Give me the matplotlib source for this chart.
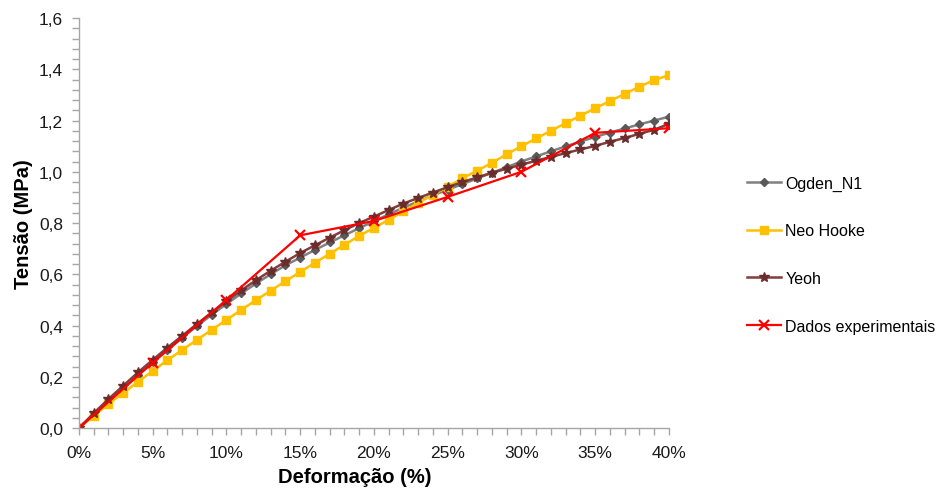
import matplotlib
matplotlib.use("Agg")
import matplotlib.pyplot as plt
from matplotlib.ticker import MultipleLocator, FuncFormatter

plt.rcParams['font.family'] = ['Liberation Sans', 'DejaVu Sans']

# deformacao (%) for the model curves
strain = list(range(0, 41))

ogden = [0.000, 0.053, 0.105, 0.157, 0.208, 0.257, 0.305, 0.352, 0.398, 0.442,
         0.484, 0.525, 0.564, 0.600, 0.635, 0.665, 0.695, 0.724, 0.752, 0.780,
         0.807, 0.834, 0.860, 0.884, 0.908, 0.930, 0.952, 0.974, 0.996, 1.018,
         1.040, 1.060, 1.080, 1.099, 1.118, 1.136, 1.153, 1.169, 1.185, 1.200,
         1.215]

neo_hooke = [0.000, 0.047, 0.094, 0.137, 0.180, 0.223, 0.265, 0.305, 0.344, 0.383,
             0.422, 0.461, 0.499, 0.536, 0.573, 0.609, 0.645, 0.680, 0.715, 0.750,
             0.781, 0.813, 0.845, 0.879, 0.910, 0.941, 0.975, 1.004, 1.035, 1.068,
             1.100, 1.130, 1.160, 1.190, 1.219, 1.248, 1.276, 1.304, 1.332, 1.358,
             1.377]

yeoh = [0.000, 0.058, 0.113, 0.165, 0.217, 0.266, 0.314, 0.360, 0.406, 0.451,
        0.495, 0.537, 0.577, 0.614, 0.649, 0.683, 0.713, 0.743, 0.772, 0.800,
        0.825, 0.851, 0.876, 0.898, 0.919, 0.940, 0.960, 0.978, 0.996, 1.012,
        1.028, 1.043, 1.058, 1.073, 1.087, 1.101, 1.117, 1.132, 1.148, 1.164,
        1.187]

exp_strain = [0, 5, 10, 15, 20, 25, 30, 35, 40]
exp_stress = [0.000, 0.255, 0.500, 0.752, 0.808, 0.902, 1.000, 1.152, 1.170]

fig = plt.figure(figsize=(9.36, 4.89), dpi=100)
ax = fig.add_axes([0.0844, 0.1227, 0.6303, 0.8384])

ax.plot(strain, ogden, color='#808080', lw=1.8, marker='D', ms=4,
        mfc='#595959', mec='#595959', label='Ogden_N1')
ax.plot(strain, neo_hooke, color='#FFC000', lw=1.8, marker='s', ms=5.5,
        mfc='#FFC000', mec='#FFC000', label='Neo Hooke')
ax.plot(strain, yeoh, color='#843C3C', lw=1.8, marker='*', ms=7,
        mfc='#6B2C2C', mec='#6B2C2C', label='Yeoh')
ax.plot(exp_strain, exp_stress, color='#FF0000', lw=1.6, marker='x', ms=7,
        mew=1.6, label='Dados experimentais')

ax.set_xlim(0, 40)
ax.set_ylim(0, 1.6)
ax.xaxis.set_major_locator(MultipleLocator(5))
ax.xaxis.set_minor_locator(MultipleLocator(1))
ax.yaxis.set_major_locator(MultipleLocator(0.2))
ax.yaxis.set_minor_locator(MultipleLocator(0.04))
ax.xaxis.set_major_formatter(FuncFormatter(lambda v, p: f'{v:.0f}%'))
ax.yaxis.set_major_formatter(FuncFormatter(lambda v, p: f'{v:.1f}'.replace('.', ',')))

for side in ['top', 'right']:
    ax.spines[side].set_visible(False)
for side in ['left', 'bottom']:
    ax.spines[side].set_color('#A6A6A6')
    ax.spines[side].set_linewidth(1.0)
ax.tick_params(which='both', direction='out', color='#A6A6A6', width=1.0)
ax.tick_params(which='major', length=5, labelsize=12.5, colors='#A6A6A6',
               labelcolor='#1a1a1a')
ax.tick_params(which='minor', length=5)
ax.tick_params(axis='x', which='major', pad=7)
ax.tick_params(axis='y', which='major', pad=6.5)

ax.set_xlabel('Deformação (%)', fontsize=14.5, fontweight='bold', labelpad=5)
ax.xaxis.set_label_coords(0.468, -0.094)
ax.set_ylabel('Tensão (MPa)', fontsize=14.5, fontweight='bold', labelpad=4)

leg = ax.legend(loc='center left', bbox_to_anchor=(1.132, 0.423), frameon=False,
                fontsize=11.5, labelspacing=2.05, handlelength=2.15,
                handletextpad=0.25, borderaxespad=0, borderpad=0)

fig.savefig('out.png', dpi=100)
